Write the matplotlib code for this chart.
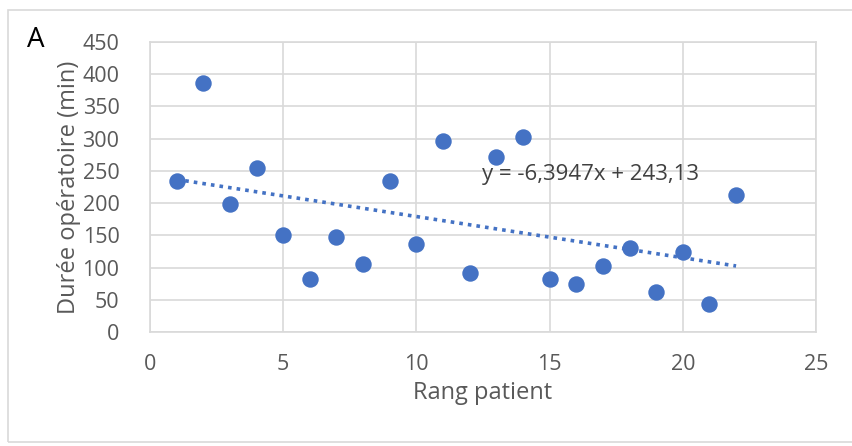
import matplotlib
matplotlib.use("Agg")
import matplotlib.pyplot as plt
import matplotlib.patches as patches

plt.rcParams['font.family'] = ['Open Sans', 'DejaVu Sans']

# patient rank vs operating time (min)
rang = [1, 2, 3, 4, 5, 6, 7, 8, 9, 10, 11, 12, 13, 14, 15, 16, 17, 18, 19, 20, 21, 22]
duree = [235, 386, 198, 255, 151, 82, 147, 105, 235, 136, 297, 91, 272, 303, 82, 74, 102, 131, 62, 124, 43, 213]

# trend line coefficients as printed on the chart
pente = -6.3947
origine = 243.13
equation = "y = -6,3947x + 243,13"

x_ticks = [0, 5, 10, 15, 20, 25]
y_ticks = [0, 50, 100, 150, 200, 250, 300, 350, 400, 450]

bleu = "#4472C4"
gris_txt = "#595959"
gris_grille = "#D9D9D9"

fig = plt.figure(figsize=(8.52, 4.46), dpi=100)
ax = fig.add_axes([150 / 852, 1 - 332 / 446, (816 - 150) / 852, (332 - 42) / 446])

# outer frame of the chart
fig.patches.append(patches.Rectangle((8 / 852, 4 / 446), 860 / 852, 432 / 446,
                                     transform=fig.transFigure, fill=False,
                                     edgecolor="#D9D9D9", linewidth=1.2))

ax.scatter(rang, duree, s=140, color=bleu, zorder=3, linewidths=0)

tx = [rang[0], rang[-1]]
ty = [pente * v + origine for v in tx]
ax.plot(tx, ty, linestyle=(0, (1, 1.4)), color=bleu, linewidth=2.6, zorder=2)

ax.text(12.45, 244, equation, fontsize=16, color="#404040", va="center", ha="left")

ax.set_xlim(0, 25)
ax.set_ylim(0, 450)
ax.set_xticks(x_ticks)
ax.set_yticks(y_ticks)
ax.grid(True, color=gris_grille, linewidth=1.2)
ax.set_axisbelow(True)
for s in ax.spines.values():
    s.set_color(gris_grille)
    s.set_linewidth(1.2)
ax.tick_params(length=0, labelsize=15.5, labelcolor=gris_txt)
ax.tick_params(axis="x", pad=16)
ax.tick_params(axis="y", pad=22)

ax.set_xlabel("Rang patient", fontsize=17, color=gris_txt, labelpad=4)
ax.set_ylabel("Durée opératoire (min)", fontsize=17, color=gris_txt, labelpad=1)

fig.text(27 / 852, 1 - 40 / 446, "A", fontsize=20, color="black", va="center", ha="left")

plt.savefig("out.png", dpi=100)
